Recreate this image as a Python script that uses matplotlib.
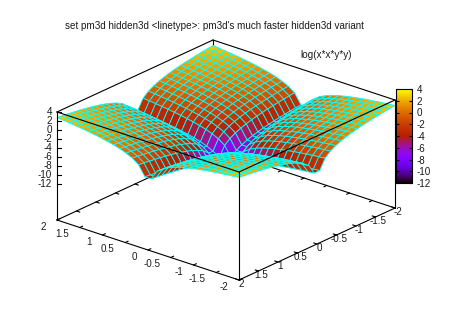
import numpy as np
import matplotlib
matplotlib.use("Agg")
import matplotlib.pyplot as plt
from matplotlib.collections import PolyCollection
from matplotlib.colors import Normalize
from matplotlib.cm import ScalarMappable

plt.rcParams['font.family'] = ['Liberation Sans', 'DejaVu Sans']

TITLE = "set pm3d hidden3d <linetype>: pm3d's much faster hidden3d variant"
KEY = "log(x*x*y*y)"

# positive half of the sample grid (mirrored for the negative half)
half_coords = [0.069, 0.207, 0.345, 0.483, 0.621, 0.759, 0.897, 1.034,
               1.172, 1.310, 1.448, 1.586, 1.724, 1.862, 2.0]

# surface heights for one quadrant (mirrored for the other three)
z_quadrant = [
    [-10.70, -8.50, -7.48, -6.81, -6.30, -5.90, -5.57, -5.28, -5.03, -4.81, -4.61, -4.43, -4.26, -4.11, -3.96],
    [-8.50, -6.30, -5.28, -4.61, -4.10, -3.70, -3.37, -3.08, -2.83, -2.61, -2.41, -2.23, -2.06, -1.91, -1.76],
    [-7.48, -5.28, -4.26, -3.59, -3.08, -2.68, -2.35, -2.06, -1.81, -1.59, -1.39, -1.21, -1.04, -0.89, -0.74],
    [-6.81, -4.61, -3.59, -2.92, -2.41, -2.01, -1.68, -1.39, -1.14, -0.92, -0.72, -0.54, -0.37, -0.22, -0.07],
    [-6.30, -4.10, -3.08, -2.41, -1.90, -1.50, -1.17, -0.88, -0.63, -0.41, -0.21, -0.03, 0.14, 0.29, 0.44],
    [-5.90, -3.70, -2.68, -2.01, -1.50, -1.10, -0.77, -0.48, -0.23, -0.01, 0.19, 0.37, 0.54, 0.69, 0.84],
    [-5.57, -3.37, -2.35, -1.68, -1.17, -0.77, -0.44, -0.15, 0.10, 0.32, 0.52, 0.70, 0.87, 1.02, 1.17],
    [-5.28, -3.08, -2.06, -1.39, -0.88, -0.48, -0.15, 0.14, 0.39, 0.61, 0.81, 0.99, 1.16, 1.31, 1.46],
    [-5.03, -2.83, -1.81, -1.14, -0.63, -0.23, 0.10, 0.39, 0.64, 0.86, 1.06, 1.24, 1.41, 1.56, 1.71],
    [-4.81, -2.61, -1.59, -0.92, -0.41, -0.01, 0.32, 0.61, 0.86, 1.08, 1.28, 1.46, 1.63, 1.78, 1.93],
    [-4.61, -2.41, -1.39, -0.72, -0.21, 0.19, 0.52, 0.81, 1.06, 1.28, 1.48, 1.66, 1.83, 1.98, 2.13],
    [-4.43, -2.23, -1.21, -0.54, -0.03, 0.37, 0.70, 0.99, 1.24, 1.46, 1.66, 1.84, 2.01, 2.16, 2.31],
    [-4.26, -2.06, -1.04, -0.37, 0.14, 0.54, 0.87, 1.16, 1.41, 1.63, 1.83, 2.01, 2.18, 2.33, 2.48],
    [-4.11, -1.91, -0.89, -0.22, 0.29, 0.69, 1.02, 1.31, 1.56, 1.78, 1.98, 2.16, 2.33, 2.48, 2.63],
    [-3.96, -1.76, -0.74, -0.07, 0.44, 0.84, 1.17, 1.46, 1.71, 1.93, 2.13, 2.31, 2.48, 2.63, 2.78],
]

xy_ticks = [2, 1.5, 1, 0.5, 0, -0.5, -1, -1.5, -2]
xy_tick_labels = ['2', '1.5', '1', '0.5', '0', '-0.5', '-1', '-1.5', '-2']
z_ticks = [4, 2, 0, -2, -4, -6, -8, -10, -12]
cb_ticks = [4, 2, 0, -2, -4, -6, -8, -10, -12]

Z_BASE = -20.0
Z_TOP = 4.0
Z_MIN = -12.0
LIM = 2.0


def proj(a, b, z):
    """Orthographic gnuplot-style view: returns canvas coordinates."""
    a, b, z = np.asarray(a, float), np.asarray(b, float), np.asarray(z, float)
    sx = 226.0 - 45.5 * a - 39.0 * b
    sy = 214.0 - 15.0 * a + 18.0 * b - 4.5 * (z - Z_BASE)
    return sx, sy


fig = plt.figure(figsize=(4.5, 3.2), dpi=100)
ax = fig.add_axes([0, 0, 1, 1])
ax.set_xlim(0, 450)
ax.set_ylim(320, 0)
ax.axis('off')

LW = 0.8
THIN = 0.6
cmap = plt.get_cmap('gnuplot')
norm = Normalize(Z_MIN, Z_TOP)


def seg(p, q, z=2):
    xs, ys = proj([p[0], q[0]], [p[1], q[1]], [p[2], q[2]])
    ax.plot(xs, ys, color='k', lw=LW, zorder=z, antialiased=True,
            solid_capstyle='projecting')


# back edges (behind the surface)
seg((LIM, LIM, Z_BASE), (LIM, -LIM, Z_BASE), 1)
seg((LIM, -LIM, Z_BASE), (-LIM, -LIM, Z_BASE), 1)
seg((LIM, -LIM, Z_BASE), (LIM, -LIM, Z_TOP), 1)
seg((LIM, LIM, Z_TOP), (LIM, -LIM, Z_TOP), 1)
seg((LIM, -LIM, Z_TOP), (-LIM, -LIM, Z_TOP), 1)

# mirrored ticks on back edges
TL = 0.07
for t in xy_ticks:
    if abs(t) < LIM:
        xs, ys = proj([t, t], [-LIM, -LIM + TL], [Z_BASE, Z_BASE])
        ax.plot(xs, ys, color='k', lw=LW, zorder=1)
        xs, ys = proj([LIM, LIM - TL], [t, t], [Z_BASE, Z_BASE])
        ax.plot(xs, ys, color='k', lw=LW, zorder=1)

# surface
q = np.array(z_quadrant)
coords = np.concatenate([-np.array(half_coords)[::-1], np.array(half_coords)])
Z = np.block([[q[::-1, ::-1], q[::-1, :]], [q[:, ::-1], q]])
A, B = np.meshgrid(coords, coords, indexing='ij')
SX, SY = proj(A, B, Z)

polys, vals, depth = [], [], []
for i in range(Z.shape[0] - 1):
    for j in range(Z.shape[1] - 1):
        ii = [i, i + 1, i + 1, i]
        jj = [j, j, j + 1, j + 1]
        polys.append(np.column_stack([SX[ii, jj], SY[ii, jj]]))
        vals.append(Z[ii, jj].mean())
        depth.append(-15.0 * A[ii, jj].mean() + 18.0 * B[ii, jj].mean())
order = np.argsort(depth)
pc = PolyCollection([polys[k] for k in order],
                    facecolors=cmap(norm(np.array(vals)[order])),
                    edgecolors='#00ffff', linewidths=THIN, antialiaseds=True,
                    zorder=3)
ax.add_collection(pc)

# front edges (over the surface)
seg((LIM, LIM, Z_BASE), (-LIM, LIM, Z_BASE), 4)
seg((-LIM, LIM, Z_BASE), (-LIM, -LIM, Z_BASE), 4)
seg((LIM, LIM, Z_BASE), (LIM, LIM, Z_TOP), 4)
seg((-LIM, LIM, Z_BASE), (-LIM, LIM, Z_TOP), 4)
seg((-LIM, -LIM, Z_BASE), (-LIM, -LIM, Z_TOP), 4)
seg((LIM, LIM, Z_TOP), (-LIM, LIM, Z_TOP), 4)
seg((-LIM, LIM, Z_TOP), (-LIM, -LIM, Z_TOP), 4)

FS = 7.1
TC = '#1a1a1a'

# tick marks and labels on the front edges
for t, lab in zip(xy_ticks, xy_tick_labels):
    xs, ys = proj([t, t], [LIM, LIM - TL], [Z_BASE, Z_BASE])
    ax.plot(xs, ys, color='k', lw=LW, zorder=4)
    ax.annotate(lab, (xs[0], ys[0]), xytext=(-7.6, -5), textcoords='offset points',
                ha='right', va='center', fontsize=FS, color=TC)
    xs, ys = proj([-LIM, -LIM + TL], [t, t], [Z_BASE, Z_BASE])
    ax.plot(xs, ys, color='k', lw=LW, zorder=4)
    ax.annotate(lab, (xs[0], ys[0]), xytext=(1.8, -2.6), textcoords='offset points',
                ha='center', va='center', fontsize=FS, color=TC)

# z axis ticks on the left vertical edge
for t in z_ticks:
    xs, ys = proj([LIM, LIM], [LIM, LIM], [t, t])
    ax.plot([xs[0], xs[0] + 3.5], ys, color='k', lw=LW, zorder=4)
    ax.annotate(str(t), (xs[0], ys[0]), xytext=(-3.6, 0), textcoords='offset points',
                ha='right', va='center', fontsize=FS, color=TC)

ax.text(214, 26, TITLE, ha='center', va='center', fontsize=FS, color=TC)
ax.text(326, 55, KEY, ha='center', va='center', fontsize=FS, color=TC)

# colour box
cax = fig.add_axes([395.5 / 450, 1 - 183 / 320, 16.5 / 450, 94 / 320])
cb = fig.colorbar(ScalarMappable(norm=norm, cmap=cmap), cax=cax)
cb.set_ticks(cb_ticks)
cb.set_ticklabels([str(t) for t in cb_ticks])
cb.outline.set_linewidth(LW)
cax.tick_params(axis='y', which='both', direction='in', length=2.2, width=LW,
                left=True, right=True, labelsize=FS, labelcolor=TC, pad=3.5)

fig.savefig('out.png', dpi=100, facecolor='white')
